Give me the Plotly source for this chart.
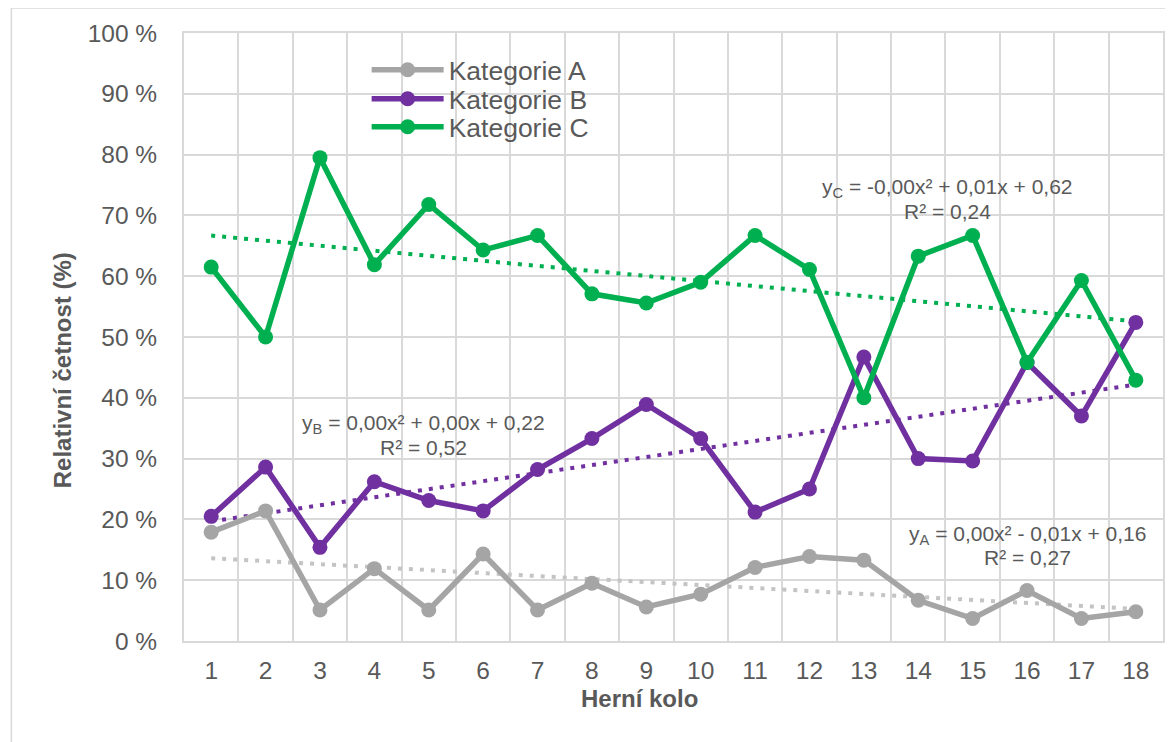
import numpy as np
import plotly.graph_objects as go

# ---- data ----
rounds = list(range(1, 19))
kat_a = [17.9, 21.4, 5.1, 11.9, 5.1, 14.3, 5.1, 9.5, 5.6, 7.7, 12.1, 13.9, 13.3, 6.7, 3.7, 8.3, 3.7, 4.8]
kat_b = [20.5, 28.6, 15.4, 26.2, 23.1, 21.4, 28.2, 33.3, 38.9, 33.3, 21.2, 25.0, 46.7, 30.0, 29.6, 45.8, 37.0, 52.4]
kat_c = [61.5, 50.0, 79.5, 61.9, 71.8, 64.3, 66.7, 57.1, 55.6, 59.0, 66.7, 61.1, 40.0, 63.3, 66.7, 45.8, 59.3, 42.9]
names = ["Kategorie A", "Kategorie B", "Kategorie C"]
eq_a = ["y<sub>A</sub> = 0,00x² - 0,01x + 0,16", "R² = 0,27"]
eq_b = ["y<sub>B</sub> = 0,00x² + 0,00x + 0,22", "R² = 0,52"]
eq_c = ["y<sub>C</sub> = -0,00x² + 0,01x + 0,62", "R² = 0,24"]
y_ticks = list(range(0, 101, 10))
y_ticktext = [f"{v} %" for v in y_ticks]

# ---- style ----
colors = ["#A5A5A5", "#7030A0", "#00B050"]
trend_colors = ["#C4C4C4", "#7030A0", "#00B050"]
FONT = "Liberation Sans, Arial, sans-serif"
TXT = "#595959"
GRID = "#D9D9D9"

# page body has an 8px default margin -> compensate
OFF = 8
PAGE_W, PAGE_H = 1173, 742
FIG_W, FIG_H = PAGE_W - OFF, PAGE_H - OFF
# plot area in page pixels
PL, PR, PT, PB = 184, 1165, 33, 641
W, H = PR - PL, PB - PT
def px2x(px): return (px - PL) / W
def py2y(py): return (PB - py) / H

fig = go.Figure()

series = [kat_a, kat_b, kat_c]
x = np.array(rounds, dtype=float)
# trendlines (least-squares fit of each series, as drawn in the chart)
for vals, col in zip(series, trend_colors):
    coef = np.polyfit(x, np.array(vals), 1)
    fig.add_trace(go.Scatter(x=rounds, y=np.polyval(coef, x), mode="lines",
                             line=dict(color=col, width=4, dash="4px,7px"),
                             showlegend=False, hoverinfo="skip"))

legends = ["legend", "legend2", "legend3"]
for vals, col, nm, lg in zip(series, colors, names, legends):
    fig.add_trace(go.Scatter(x=rounds, y=vals, mode="lines+markers", name=nm,
                             line=dict(color=col, width=5.5),
                             marker=dict(color=col, size=15),
                             legend=lg))

leg_rows = [70, 99, 127]
leg_common = dict(bgcolor="rgba(0,0,0,0)", font=dict(family=FONT, size=26.5, color=TXT),
                  itemwidth=72, xanchor="left", yanchor="middle", borderwidth=0)
fig.update_layout(
    legend=dict(x=px2x(367), y=py2y(leg_rows[0]), **leg_common),
    legend2=dict(x=px2x(367), y=py2y(leg_rows[1]), **leg_common),
    legend3=dict(x=px2x(367), y=py2y(leg_rows[2]), **leg_common),
)

annots = []
def eq(lines, cx, y1, y2):
    for t, yy in zip(lines, (y1, y2)):
        annots.append(dict(text=t, x=px2x(cx), y=py2y(yy), xref="paper", yref="paper",
                           showarrow=False, xanchor="center", yanchor="middle",
                           font=dict(family=FONT, size=21, color=TXT)))
eq(eq_c, 949, 188, 211)
eq(eq_b, 424, 424, 447)
eq(eq_a, 1029, 535, 557)

annots.append(dict(text="<b>Herní kolo</b>", x=px2x(640), y=py2y(698), xref="paper", yref="paper",
                   showarrow=False, xanchor="center", yanchor="middle",
                   font=dict(family=FONT, size=24, color=TXT)))
annots.append(dict(text="<b>Relativní četnost (%)</b>", x=px2x(62), y=py2y(370), xref="paper", yref="paper",
                   showarrow=False, xanchor="center", yanchor="middle", textangle=-90,
                   font=dict(family=FONT, size=24, color=TXT)))

shapes = [
    dict(type="rect", xref="paper", yref="paper", layer="between",
         x0=px2x(313), x1=px2x(762), y0=py2y(139), y1=py2y(54),
         fillcolor="white", line=dict(width=0)),
    dict(type="rect", xref="paper", yref="paper", layer="above",
         x0=px2x(11), x1=px2x(1190), y0=py2y(760), y1=py2y(8),
         fillcolor="rgba(0,0,0,0)", line=dict(color=GRID, width=1.5)),
]

fig.update_layout(
    width=FIG_W, height=FIG_H,
    margin=dict(l=PL - OFF, r=PAGE_W - PR, t=PT - OFF, b=PAGE_H - PB, pad=0),
    paper_bgcolor="white", plot_bgcolor="white",
    font=dict(family=FONT, color=TXT),
    annotations=annots, shapes=shapes,
    xaxis=dict(range=[0.5, 18.5], tickmode="array", tickvals=rounds,
               ticktext=[str(r) for r in rounds], showgrid=False, zeroline=False,
               showline=True, linecolor=GRID, linewidth=2, mirror=True,
               ticks="", ticklabelstandoff=7,
               tickfont=dict(family=FONT, size=24.5, color=TXT),
               minor=dict(tickmode="array", tickvals=[r + 0.5 for r in range(0, 19)],
                          showgrid=True, gridcolor=GRID, gridwidth=2, ticks="")),
    yaxis=dict(range=[0, 100], tickmode="array", tickvals=y_ticks, ticktext=y_ticktext,
               showgrid=True, gridcolor=GRID, gridwidth=2, zeroline=False,
               showline=True, linecolor=GRID, linewidth=2, mirror=True,
               ticks="", ticklabelstandoff=20,
               tickfont=dict(family=FONT, size=24.5, color=TXT)),
)

fig.write_html("out.html")
